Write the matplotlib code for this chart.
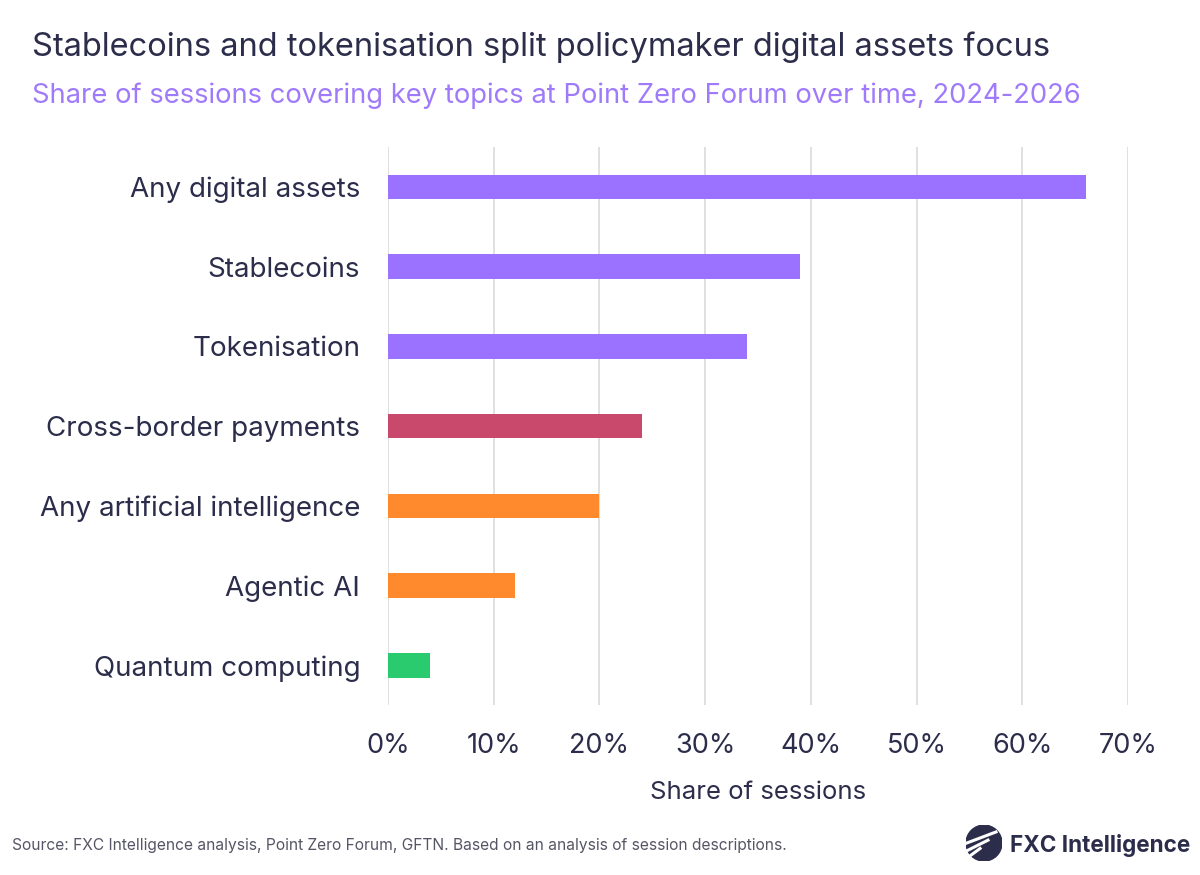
import matplotlib.pyplot as plt
import matplotlib.patches as mpatches
from matplotlib.ticker import FuncFormatter

plt.rcParams['font.family'] = ['Inter', 'DejaVu Sans']

topics = ['Any digital assets', 'Stablecoins', 'Tokenisation', 'Cross-border payments',
          'Any artificial intelligence', 'Agentic AI', 'Quantum computing']
shares = [66, 39, 34, 24, 20, 12, 4]
colors = ['#9B72FF', '#9B72FF', '#9B72FF', '#C8496B', '#FF8A2E', '#FF8A2E', '#2ACB6F']

navy = '#2B2D4A'

fig = plt.figure(figsize=(12, 8.75), dpi=100)
ax = fig.add_axes([0.3233, 0.194, 0.6167, 0.638])

y = list(range(len(topics)))
ax.barh(y, shares, height=0.31, color=colors, zorder=3)
ax.set_ylim(len(topics) - 0.5, -0.5)
ax.set_xlim(0, 70)
ax.set_xticks(range(0, 71, 10))
ax.xaxis.set_major_formatter(FuncFormatter(lambda v, p: f'{v:.0f}%'))
ax.set_yticks(y)
ax.set_yticklabels(topics)
ax.tick_params(axis='both', length=0, labelsize=19.5, colors=navy)
ax.tick_params(axis='y', labelsize=20, pad=20)
ax.tick_params(axis='x', pad=20)
ax.grid(axis='x', color='#DDDDDD', linewidth=1.3, zorder=0)
for s in ax.spines.values():
    s.set_visible(False)
ax.set_xlabel('Share of sessions', fontsize=18.5, color=navy, labelpad=16)

fig.text(0.027, 0.946, 'Stablecoins and tokenisation split policymaker digital assets focus',
         fontsize=23.5, color=navy, va='center')
fig.text(0.027, 0.891, 'Share of sessions covering key topics at Point Zero Forum over time, 2024-2026',
         fontsize=19.7, color='#9F7AFA', va='center')
fig.text(0.01, 0.034, 'Source: FXC Intelligence analysis, Point Zero Forum, GFTN. Based on an analysis of session descriptions.',
         fontsize=11.2, color='#555566', va='center')

# logo
lax = fig.add_axes([0.805, 0.016, 0.03, 0.041])
lax.set_xlim(-1, 1)
lax.set_ylim(-1, 1)
lax.set_aspect('equal')
lax.axis('off')
lax.add_patch(mpatches.Circle((0, 0), 1, color=navy))
for off in [-0.45, 0.0, 0.45]:
    lax.plot([-1.1, 0.3 + off], [-0.5 + off, 0.2 + off], color='white', lw=2.2, solid_capstyle='butt')
fig.text(0.842, 0.034, 'FXC Intelligence', fontsize=16.2, fontweight='bold', color=navy, va='center')

fig.savefig('out.png', dpi=100, facecolor='white')
